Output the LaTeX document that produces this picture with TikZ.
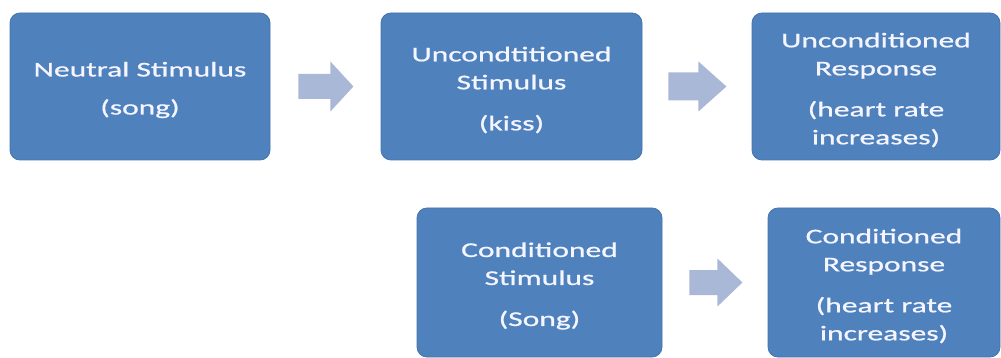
\documentclass[tikz,border=0pt]{standalone}
\usepackage{fontspec}
\newfontfamily\boxfont{Carlito}[FakeStretch=1.5,FakeBold=0.8]
\usetikzlibrary{calc}
\definecolor{boxblue}{HTML}{4F81BD}
\definecolor{boxedge}{HTML}{4474AE}
\definecolor{arrowgrey}{HTML}{A9B8D6}
\tikzset{
  stagebox/.style={rectangle, rounded corners=10pt, fill=boxblue, draw=boxedge, line width=0.8pt,
    inner sep=0pt},
  boxtext/.style={text=white!96!blue, align=center, inner sep=0pt, yshift=-3.5pt,
    font=\boxfont\fontsize{21}{28}\selectfont},
  blockarrow/.style={fill=arrowgrey}
}
\begin{document}
\begin{tikzpicture}[x=1pt,y=-1pt]
\fill[white] (0,0) rectangle (1001,358);
\useasboundingbox (0,0) rectangle (1001,358);

\node[stagebox, minimum width=260pt, minimum height=147pt,
  label={[boxtext]center:{Neutral Stimulus\\[10pt](song)}}] (b1) at (140,86.5) {};
\node[stagebox, minimum width=261pt, minimum height=147pt,
  label={[boxtext]center:{Uncondtitioned\\Stimulus\\[13pt](kiss)}}] (b2) at (511.5,86.5) {};
\node[stagebox, minimum width=248pt, minimum height=147pt,
  label={[boxtext]center:{Unconditioned\\Response\\[13pt](heart rate\\increases)}}] (b3) at (876,86.5) {};
\node[stagebox, minimum width=245pt, minimum height=149pt,
  label={[boxtext]center:{Conditioned\\Stimulus\\[13pt](Song)}}] (b4) at (539.5,282.5) {};
\node[stagebox, minimum width=232pt, minimum height=149pt,
  label={[boxtext]center:{Conditioned\\Response\\[13pt](heart rate\\increases)}}] (b5) at (884,282.5) {};

% block arrows between boxes
\fill[blockarrow] ($(b1.east)+(28,-12.5)$) -- ++(32,0) -- ++(0,-12.5) -- ++(23,25)
  -- ++(-23,25) -- ++(0,-12.5) -- ++(-32,0) -- cycle;
\fill[blockarrow] ($(b2.east)+(26,-14)$) -- ++(30,0) -- ++(0,-11) -- ++(28,25)
  -- ++(-28,25) -- ++(0,-11) -- ++(-30,0) -- cycle;
\fill[blockarrow] ($(b4.east)+(27,-12.5)$) -- ++(28,0) -- ++(0,-11.5) -- ++(25,24)
  -- ++(-25,24) -- ++(0,-11.5) -- ++(-28,0) -- cycle;
\end{tikzpicture}
\end{document}
